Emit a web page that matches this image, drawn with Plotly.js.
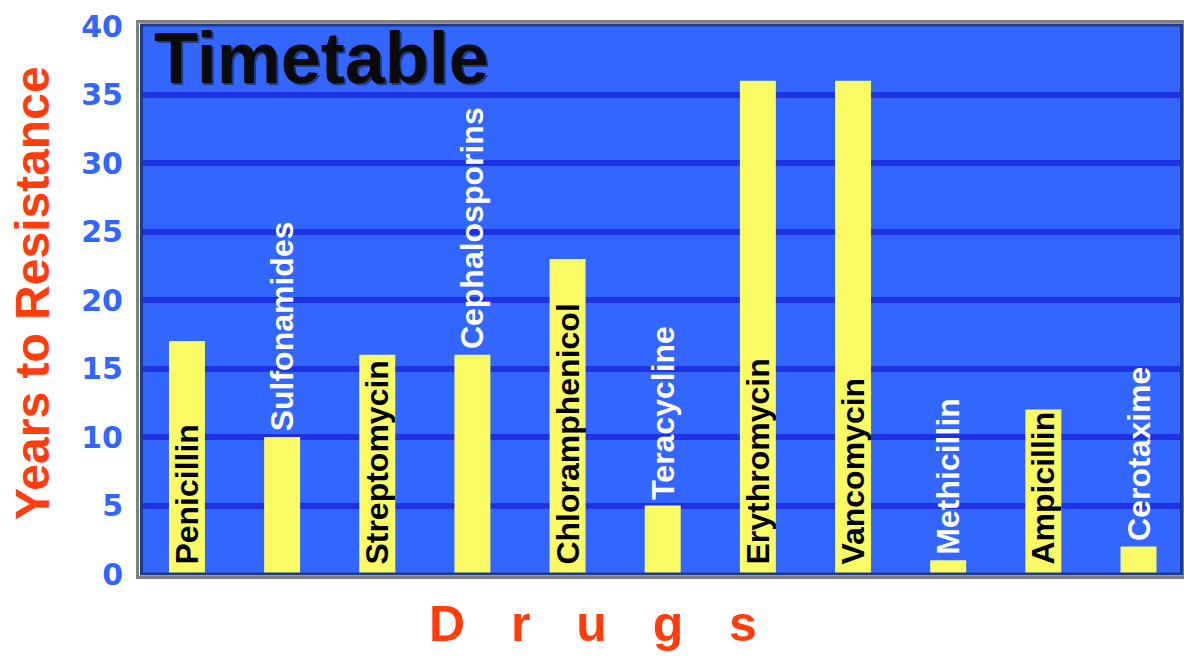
<!DOCTYPE html>
<html>
<head>
<meta charset="utf-8">
<script src="https://cdn.plot.ly/plotly-3.0.1.min.js"></script>
<style>html,body{margin:0;padding:0;background:#fff;}#chart{width:1184px;height:656px;}</style>
</head>
<body>
<div id="chart"></div>
<script>
// ---- data ----
const drugs = ["Penicillin", "Sulfonamides", "Streptomycin", "Cephalosporins", "Chloramphenicol",
  "Teracycline", "Erythromycin", "Vancomycin", "Methicillin", "Ampicillin", "Cerotaxime"];
const yearsToResistance = [17, 10, 16, 16, 23, 5, 36, 36, 1, 12, 2];
const yTickValues = [0, 5, 10, 15, 20, 25, 30, 35, 40];
const yTickLabels = ["0", "5", "10", "15", "20", "25", "30", "35", "40"];
const chartTitle = "Timetable";
const yTitle = "Years to Resistance";
const xTitle = ["D", "r", "u", "g", "s"];

// ---- style ----
const labelPlacement = ["inside", "outside", "inside", "outside", "inside", "outside",
  "inside", "inside", "outside", "inside", "outside"];
const W = 1184, H = 656;
const M = {l: 143, r: 4, t: 26, b: 82};
const PW = W - M.l - M.r, PH = H - M.t - M.b;
const px = x => (x - M.l) / PW;          // pixel -> paper x
const py = y => (H - M.b - y) / PH;      // pixel -> paper y
const BLUE = "#3366ff", GRID = "#1e32e4", NAVY = "#1f3a8c", GRAY = "#808080";
const RED = "#ff3c0c", YELLOW = "#fafa64";
const sans = "Liberation Sans, Arial, sans-serif";
const sep = "\u00a0\u00a0\u00a0\u200a";
// small leading space so the rotated labels sit a little off the bar base / bar top
const barLabels = drugs.map((d, i) => (labelPlacement[i] === "inside" ? "\u2009" : "\u200a") + d);

const trace = {
  type: "bar",
  x: drugs,
  y: yearsToResistance,
  width: 0.378,
  marker: {color: YELLOW, line: {width: 0}},
  text: barLabels,
  textposition: labelPlacement,
  insidetextanchor: "start",
  textangle: -90,
  constraintext: "none",
  insidetextfont: {family: sans, size: 32, weight: "bold", color: "#000000"},
  outsidetextfont: {family: sans, size: 32, weight: "bold", color: "#ffffff"},
  cliponaxis: false,
  hoverinfo: "x+y"
};

const layout = {
  width: W, height: H,
  margin: M,
  paper_bgcolor: "#ffffff",
  plot_bgcolor: BLUE,
  showlegend: false,
  xaxis: {
    type: "category",
    range: [-0.462, 10.436],
    showticklabels: false, ticks: "", showgrid: false, zeroline: false, showline: false,
    fixedrange: true
  },
  yaxis: {
    range: [0, 40],
    tickmode: "array", tickvals: yTickValues, ticktext: yTickLabels,
    ticks: "outside", ticklen: 13, tickcolor: "rgba(0,0,0,0)",
    tickfont: {family: "DejaVu Sans, sans-serif", size: 30, weight: "bold", color: BLUE},
    showgrid: true, gridcolor: GRID, gridwidth: 6,
    zeroline: false, showline: false, fixedrange: true
  },
  shapes: [
    {type: "rect", xref: "paper", yref: "paper", layer: "above",
     x0: px(137.5), x1: px(1184.5), y0: py(577.5), y1: py(21.5),
     line: {color: GRAY, width: 3}},
    {type: "rect", xref: "paper", yref: "paper", layer: "above",
     x0: px(141.5), x1: px(1181.5), y0: py(574), y1: py(25),
     line: {color: NAVY, width: 3}}
  ],
  annotations: [
    {text: chartTitle, xref: "paper", yref: "paper", x: px(151.5), y: py(16),
     xanchor: "left", yanchor: "top", showarrow: false, xshift: 2, yshift: -2,
     font: {family: sans, size: 72, weight: "bold", color: NAVY}},
    {text: chartTitle, xref: "paper", yref: "paper", x: px(151.5), y: py(16),
     xanchor: "left", yanchor: "top", showarrow: false,
     font: {family: sans, size: 72, weight: "bold", color: "#0a0a0a"}},
    {text: yTitle, xref: "paper", yref: "paper", x: px(32), y: py(293),
     xanchor: "center", yanchor: "middle", textangle: -90, showarrow: false,
     font: {family: sans, size: 48, weight: "bold", color: RED}},
    {text: xTitle.join(sep), xref: "paper", yref: "paper", x: px(593), y: py(624),
     xanchor: "center", yanchor: "middle", showarrow: false,
     font: {family: sans, size: 50, weight: "bold", color: RED}}
  ]
};

Plotly.newPlot("chart", [trace], layout, {displayModeBar: false, staticPlot: true});
</script>
</body>
</html>
